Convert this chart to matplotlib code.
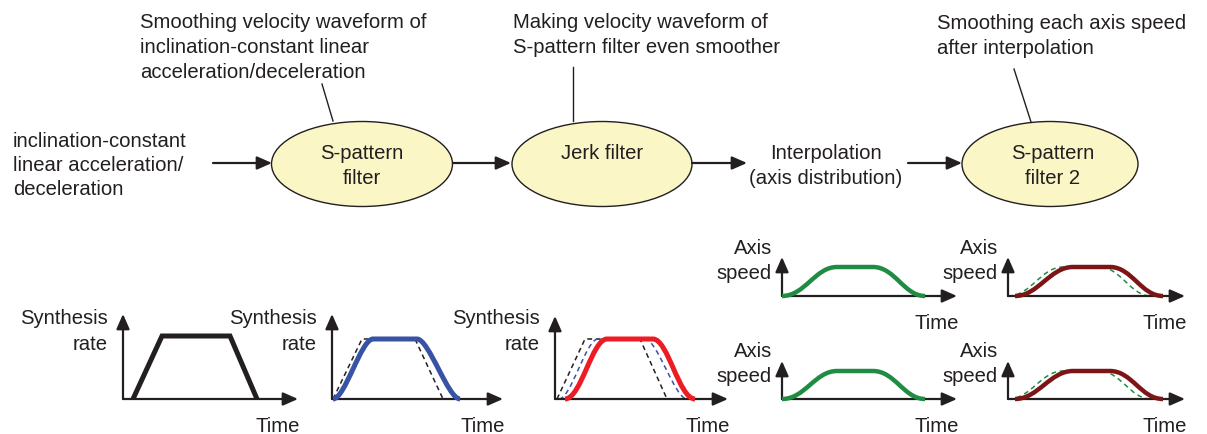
import numpy as np
import matplotlib
matplotlib.use('Agg')
import matplotlib.pyplot as plt
from matplotlib.patches import Ellipse, PathPatch
from matplotlib.path import Path

plt.rcParams['font.family'] = ['Liberation Sans', 'DejaVu Sans']

W, H = 1207, 435
FS = 14.6
INK = '#231f20'
BLUE = '#3853a4'
RED = '#ed1c24'
GREEN = '#1f8b43'
MAROON = '#7d1517'
FILL = '#faf6c6'

# texts
note_1 = ['Smoothing velocity waveform of', 'inclination-constant linear', 'acceleration/deceleration']
note_2 = ['Making velocity waveform of', 'S-pattern filter even smoother']
note_3 = ['Smoothing each axis speed', 'after interpolation']
input_text = ['inclination-constant', 'linear acceleration/', 'deceleration']
stage_1 = ['S-pattern', 'filter']
stage_2 = ['Jerk filter']
stage_3 = ['Interpolation', '(axis distribution)']
stage_4 = ['S-pattern', 'filter 2']

# waveforms, time in arbitrary units, rate 1 = constant feed
# trapezoids: start, end of accel, start of decel, stop
linear_t = [1.0, 3.9, 10.7, 13.4]
linear_v = [0, 1, 1, 0]
linear2_t = [0.1, 3.0, 8.3, 11.1]
linear3_t = [0.2, 3.0, 8.5, 11.2]
# smoothed curves as bezier vertices: start, ctrl, ctrl, top, top, ctrl, ctrl, stop
smooth_v = [0, 0, 1, 1, 1, 1, 0, 0]
spat2_t = [0.1, 1.3, 2.9, 4.1, 8.5, 9.7, 11.6, 12.8]
spat3_t = [0.4, 1.6, 3.1, 4.3, 9.0, 10.2, 12.0, 13.2]
jerk_t = [1.0, 2.6, 3.7, 5.2, 9.8, 11.3, 12.4, 14.0]
axis_t = [0.0, 2.3, 3.3, 5.5, 9.1, 11.3, 12.2, 14.3]
axis2_t = [0.7, 3.0, 4.2, 6.5, 10.2, 12.4, 13.3, 15.5]

fig = plt.figure(figsize=(W / 100, H / 100), dpi=100)
ax0 = fig.add_axes([0, 0, 1, 1])
ax0.set_xlim(0, W)
ax0.set_ylim(H, 0)
ax0.axis('off')


def lines(x, ys, texts, ha='left'):
    for y, s in zip(ys, texts):
        ax0.text(x, y + 7, s, ha=ha, va='baseline', fontsize=FS, color=INK)


def arrow(ax, xy, xytext, coords='data', lw=1.5):
    ax.annotate('', xy=xy, xytext=xytext, xycoords=coords, textcoords=coords,
                arrowprops=dict(arrowstyle='-|>,head_length=0.75,head_width=0.33',
                                mutation_scale=12, lw=lw, color=INK,
                                shrinkA=0, shrinkB=0))


# top flow
lines(140, [21, 46, 71], note_1)
lines(513, [21, 46], note_2)
lines(937, [22, 47], note_3)
lines(13, [140, 164, 188], input_text)
lines(826, [152, 177], stage_3, ha='center')

for cx, w, txt in [(362, 181, stage_1), (602, 180, stage_2), (1050, 176, stage_4)]:
    ax0.add_patch(Ellipse((cx, 165), w, 85, facecolor=FILL, edgecolor=INK, lw=1.0))
    tx = cx + 3 if txt is stage_4 else cx
    lines(tx, [152, 177][:len(txt)], txt, ha='center')

ax0.plot([322, 333], [85, 122], color=INK, lw=1.0)
ax0.plot([573, 573], [68, 122], color=INK, lw=1.0)
ax0.plot([1014, 1031], [70, 123], color=INK, lw=1.0)

for x0, x1 in [(213, 272), (453, 511), (692, 747), (908, 962)]:
    arrow(ax0, (x1, 164), (x0, 164), lw=1.6)


# small waveform panels
def panel(ox, oy, lx, ly, plat, ylab, ylab_dy):
    ax = fig.add_axes([ox / W, (H - oy) / H, lx / W, ly / H])
    ax.set_xlim(0, lx / 10)
    ax.set_ylim(0, ly / plat)
    ax.axis('off')
    arrow(ax, (1, 0), (0, 0), coords='axes fraction', lw=1.6)
    arrow(ax, (0, 1), (0, 0), coords='axes fraction', lw=1.6)
    gap = 15 if ylab[0] == 'Synthesis' else 10
    lines(ox - gap, [oy + d for d in ylab_dy], ylab, ha='right')
    lines(ox + lx + 2, [oy + 25], ['Time'], ha='right')
    return ax


def s_curve(ax, t, v, **kw):
    codes = [Path.MOVETO, Path.CURVE4, Path.CURVE4, Path.CURVE4,
             Path.LINETO, Path.CURVE4, Path.CURVE4, Path.CURVE4]
    ax.add_patch(PathPatch(Path(np.column_stack([t, v]), codes), fill=False,
                           clip_on=False, capstyle='butt', joinstyle='round', **kw))


syn = ['Synthesis', 'rate']
spd = ['Axis', 'speed']
dash = (0, (3.2, 2.4))

a1 = panel(123, 400, 175, 85, 63, syn, [-83, -57])
a1.plot(linear_t, linear_v, color=INK, lw=3.6, clip_on=False,
        solid_joinstyle='miter', solid_capstyle='butt', zorder=3)

a2 = panel(332, 400, 171, 85, 60, syn, [-83, -57])
a2.plot(linear2_t, linear_v, color=INK, lw=1.1, ls=dash, clip_on=False, zorder=2)
s_curve(a2, spat2_t, smooth_v, color=BLUE, lw=3.6, zorder=3)

a3 = panel(555, 400, 173, 83, 60, syn, [-83, -57])
a3.plot(linear3_t, linear_v, color=INK, lw=1.1, ls=dash, clip_on=False, zorder=2)
s_curve(a3, spat3_t, smooth_v, color=BLUE, lw=1.1, ls=dash, zorder=2)
s_curve(a3, jerk_t, smooth_v, color=RED, lw=3.6, zorder=3)

for oy, ly, plat in [(297, 39, 29), (400, 38, 28)]:
    a4 = panel(782, oy, 175, ly, plat, spd, [-50, -25])
    s_curve(a4, axis_t, smooth_v, color=GREEN, lw=3.2, zorder=3)
    a5 = panel(1008, oy, 177, ly, plat, spd, [-50, -25])
    s_curve(a5, axis_t, smooth_v, color=GREEN, lw=1.1, ls=dash, zorder=2)
    s_curve(a5, axis2_t, smooth_v, color=MAROON, lw=3.2, zorder=3)

fig.savefig('out.png', dpi=100)
